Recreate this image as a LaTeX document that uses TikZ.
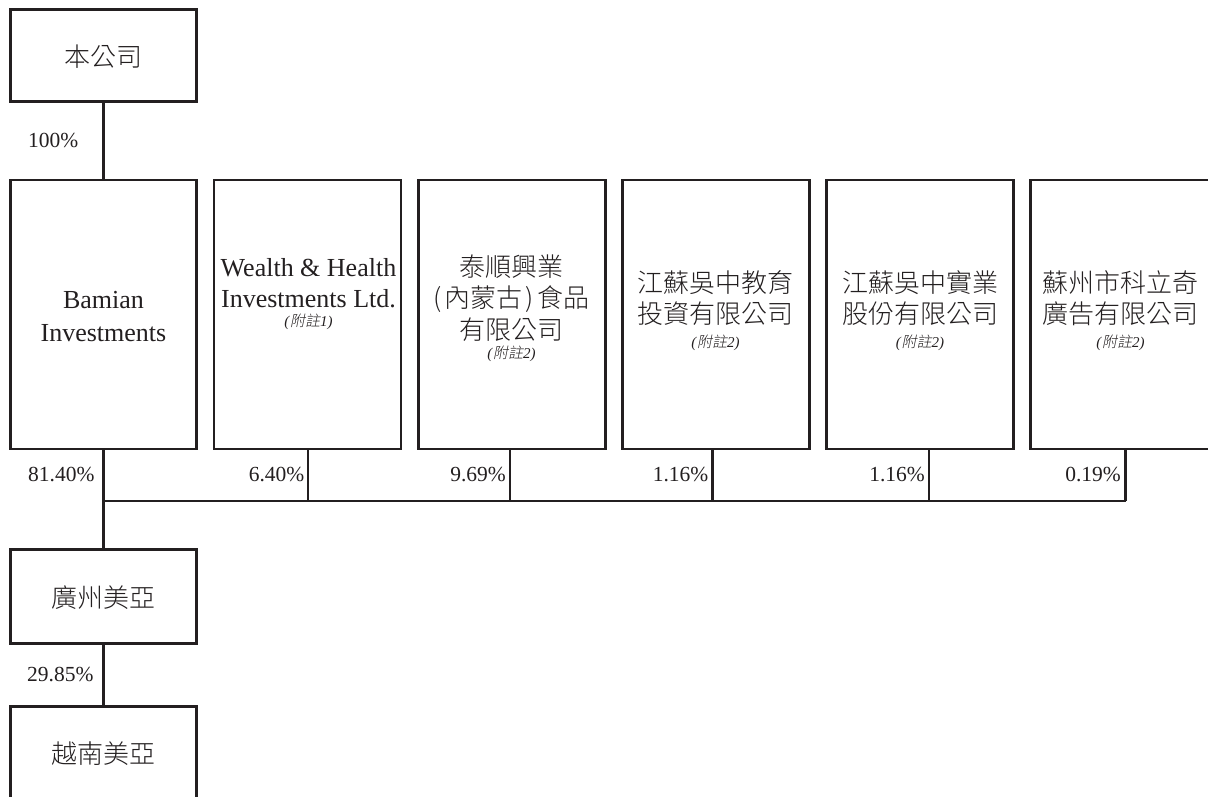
\documentclass[tikz,border=0pt]{standalone}
\usepackage{fontspec}
\setmainfont{Liberation Serif}
\newfontfamily\cjk{Noto Sans CJK TC Light}
\newfontfamily\cjknote[FakeSlant=0.2]{Noto Sans CJK TC Light}
\definecolor{ink}{HTML}{231F20}
\begin{document}
\begin{tikzpicture}[x=1pt,y=-1pt,
  box/.style={draw=ink, line width=2.6pt, inner sep=0pt, outer sep=0pt, rectangle},
  conn/.style={draw=ink, line width=2.6pt},
  lat/.style={font=\fontsize{26}{31}\selectfont, text=ink, inner sep=0pt, anchor=base},
  han/.style={font=\fontsize{26}{31}\selectfont\cjk, text=ink, inner sep=0pt, anchor=base},
  note/.style={font=\fontsize{15}{17}\selectfont, text=ink, inner sep=0pt, anchor=base},
  pct/.style={font=\fontsize{21.5}{24}\selectfont, text=ink, inner sep=0pt}
]
\useasboundingbox (0,0) rectangle (1208,796);
\clip (0,0) rectangle (1208,796);

% boxes
\node[box, minimum width=186pt, minimum height=92pt] (top) at (103.5,55.5) {};
\node[box, minimum width=186pt, minimum height=269pt] (b1) at (103.5,314.5) {};
\node[box, minimum width=187pt, minimum height=269pt] (b2) at (307.5,314.5) {};
\node[box, minimum width=187pt, minimum height=269pt] (b3) at (511.8,314.5) {};
\node[box, minimum width=187pt, minimum height=269pt] (b4) at (715.8,314.5) {};
\node[box, minimum width=186.6pt, minimum height=269pt] (b5) at (920,314.5) {};
\node[box, minimum width=187pt, minimum height=269pt] (b6) at (1124.2,314.5) {};
\node[box, minimum width=186pt, minimum height=94pt] (gz) at (103.5,596.3) {};
\node[box, minimum width=186pt, minimum height=120pt] (vn) at (103.5,766.7) {};

% texts
\node[han] (ttop) at (103.5,66) {本公司};
\node[lat] (t1a) at (103.5,308) {Bamian};
\node[lat] (t1b) at (103.5,341) {Investments};
\node[lat] (t2a) at (308.5,276) {Wealth \& Health};
\node[lat] (t2b) at (308.5,307) {Investments Ltd.};
\node[note] (n2) at (308.5,326) {\textit{(}{\cjknote 附註}\textit{1)}};
\node[han] (t3a) at (511.5,276) {泰順興業};
\node[han] (t3b) at (511.5,307) {(\hspace{3pt}內蒙古\hspace{3pt})\hspace{4pt}食品};
\node[han] (t3c) at (511.5,339) {有限公司};
\node[note] (n3) at (511.5,358) {\textit{(}{\cjknote 附註}\textit{2)}};
\node[han] (t4a) at (715.5,292) {江蘇吳中教育};
\node[han] (t4b) at (715.5,323) {投資有限公司};
\node[note] (n4) at (715.5,347) {\textit{(}{\cjknote 附註}\textit{2)}};
\node[han] (t5a) at (920,292) {江蘇吳中實業};
\node[han] (t5b) at (920,323) {股份有限公司};
\node[note] (n5) at (920,347) {\textit{(}{\cjknote 附註}\textit{2)}};
\node[han] (t6a) at (1120.5,292) {蘇州市科立奇};
\node[han] (t6b) at (1120.5,323) {廣告有限公司};
\node[note] (n6) at (1120.5,347) {\textit{(}{\cjknote 附註}\textit{2)}};
\node[han] (tgz) at (103.5,607) {廣州美亞};
\node[han] (tvn) at (103.5,763.5) {越南美亞};

% junction coordinates
\coordinate (d1) at (103.5,501);
\coordinate (d2) at (308,501);
\coordinate (d3) at (510,501);
\coordinate (d4) at (712.7,501);
\coordinate (d5) at (929,501);
\coordinate (d6) at (1125.7,501);

% connectors
\draw[conn] (top.south) -- (b1.north);
\draw[conn] (b1.south) -- (gz.north);
\draw[conn] (d1) -- (d6);
\draw[conn] (d2 |- b2.south) -- (d2);
\draw[conn] (d3 |- b3.south) -- (d3);
\draw[conn] (d4 |- b4.south) -- (d4);
\draw[conn] (d5 |- b5.south) -- (d5);
\draw[conn] (d6 |- b6.south) -- (d6);
\draw[conn] (gz.south) -- (vn.north);

% percentages
\node[pct, anchor=base west] (p0) at (28,147) {100\%};
\node[pct, anchor=base west] (p1) at (28,481.5) {81.40\%};
\node[pct, anchor=base east] (p2) at (304.5,481.5) {6.40\%};
\node[pct, anchor=base east] (p3) at (506,481.5) {9.69\%};
\node[pct, anchor=base east] (p4) at (708.5,481.5) {1.16\%};
\node[pct, anchor=base east] (p5) at (925,481.5) {1.16\%};
\node[pct, anchor=base east] (p6) at (1121,481.5) {0.19\%};
\node[pct, anchor=base west] (p7) at (27,681.5) {29.85\%};
\end{tikzpicture}
\end{document}
